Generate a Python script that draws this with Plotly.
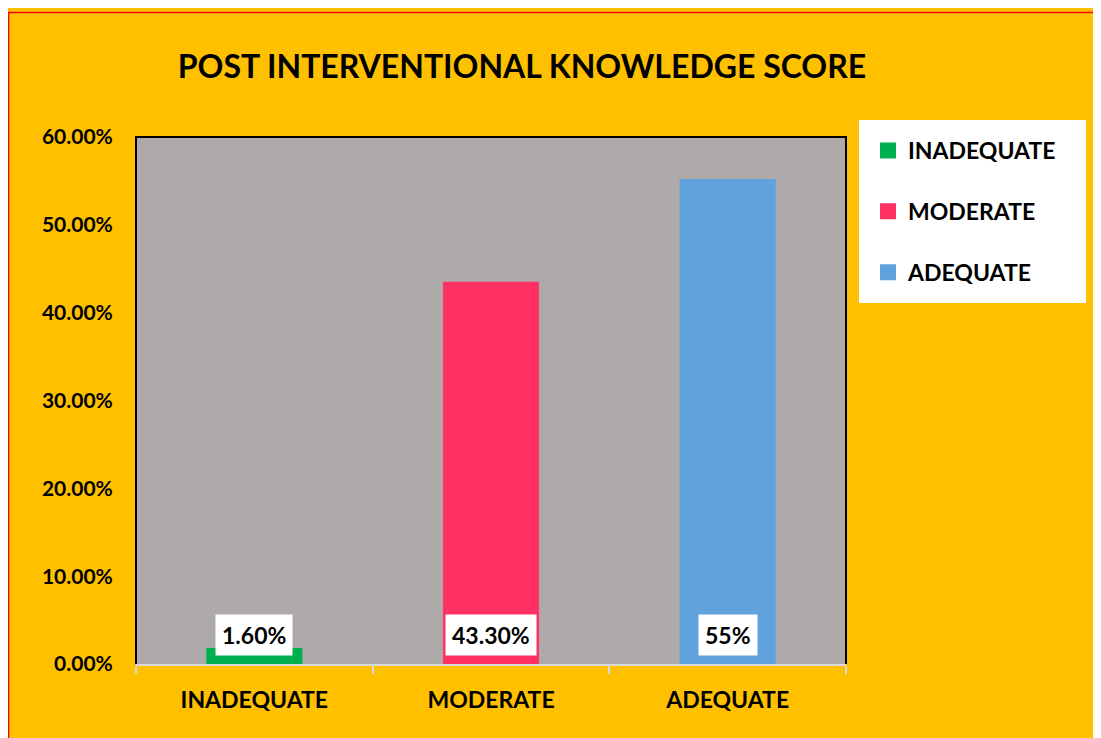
import plotly.graph_objects as go

# ---- data ----
categories = ["INADEQUATE", "MODERATE", "ADEQUATE"]
values = [1.6, 43.3, 55.0]
value_labels = ["1.60%", "43.30%", "55%"]
colors = ["#00B050", "#FF3162", "#5FA2DD"]
y_ticks = [0, 10, 20, 30, 40, 50, 60]
y_tick_labels = ["0.00%", "10.00%", "20.00%", "30.00%", "40.00%", "50.00%", "60.00%"]
title_text = "POST INTERVENTIONAL KNOWLEDGE SCORE"

# ---- layout geometry (screen pixels; page body adds an 8px offset) ----
OFF = 8
W, H = 1101 - OFF, 738 - OFF
L, R, T, B = 136 - OFF, 846 - OFF, 137 - OFF, 664 - OFF
FONT = "Lato"


def px2x(px):
    return (px - OFF - L) / (R - L)


def py2y(py):
    return (B - (py - OFF)) / (B - T)


fig = go.Figure()
for cat, val, col in zip(categories, values, colors):
    fig.add_trace(go.Bar(
        x=[cat], y=[val], name=cat, width=0.389,
        marker=dict(color=col, line=dict(color=col, width=4)),
        hoverinfo="skip",
    ))

for cat, lab in zip(categories, value_labels):
    fig.add_annotation(
        x=cat, y=0, xref="x", yref="y", text=lab, showarrow=False,
        yanchor="bottom", yshift=8, bgcolor="white", borderpad=6,
        font=dict(family=FONT, size=23, color="black", weight="bold"),
    )

shapes = [
    # red chart border (left and top)
    dict(type="line", xref="paper", yref="paper", x0=px2x(8.5), x1=px2x(8.5),
         y0=py2y(12), y1=py2y(H + 40), line=dict(color="#FF0000", width=1.5), layer="above"),
    dict(type="line", xref="paper", yref="paper", x0=px2x(8), x1=px2x(W + 40),
         y0=py2y(12.5), y1=py2y(12.5), line=dict(color="#FF0000", width=1.5), layer="above"),
    # plot area border (left, top, right)
    dict(type="path", xref="paper", yref="paper",
         path="M 0 0 L 0 1 L 1 1 L 1 0", line=dict(color="black", width=2), layer="above"),
    # legend box
    dict(type="rect", xref="paper", yref="paper", x0=px2x(859), x1=px2x(1086),
         y0=py2y(303), y1=py2y(120), fillcolor="white", line=dict(width=0), layer="below"),
]

fig.update_layout(
    width=W, height=H,
    margin=dict(l=L, r=W - R, t=T, b=H - B, pad=0),
    paper_bgcolor="#FFC000",
    plot_bgcolor="#AEAAAA",
    barmode="overlay",
    shapes=shapes,
    title=dict(
        text=title_text, x=px2x(522), xref="paper", xanchor="center",
        y=1 - (67 - OFF) / H, yref="container", yanchor="middle",
        font=dict(family=FONT, size=32, color="black", weight="bold"),
    ),
    xaxis=dict(
        type="category", range=[-0.5, 2.5], tickson="boundaries",
        ticks="outside", ticklen=8, tickwidth=2, tickcolor="#D9D9D9",
        ticklabelstandoff=14,
        showline=True, linecolor="#D9D9D9", linewidth=2,
        showgrid=False, zeroline=False,
        tickfont=dict(family=FONT, size=23, color="black", weight="bold"),
    ),
    yaxis=dict(
        range=[0, 60], tickvals=y_ticks, ticktext=y_tick_labels,
        showgrid=False, zeroline=False, showline=False,
        ticks="outside", ticklen=18, tickcolor="rgba(0,0,0,0)",
        tickfont=dict(family=FONT, size=21, color="black", weight="bold"),
    ),
    legend=dict(
        x=px2x(868), y=py2y(129), xanchor="left", yanchor="top",
        bgcolor="rgba(0,0,0,0)", borderwidth=0, tracegroupgap=28,
        font=dict(family=FONT, size=23, color="black", weight="bold"),
    ),
    showlegend=True,
)
for i, tr in enumerate(fig.data):
    tr.legendgroup = f"g{i}"

fig.write_html("out.html")
